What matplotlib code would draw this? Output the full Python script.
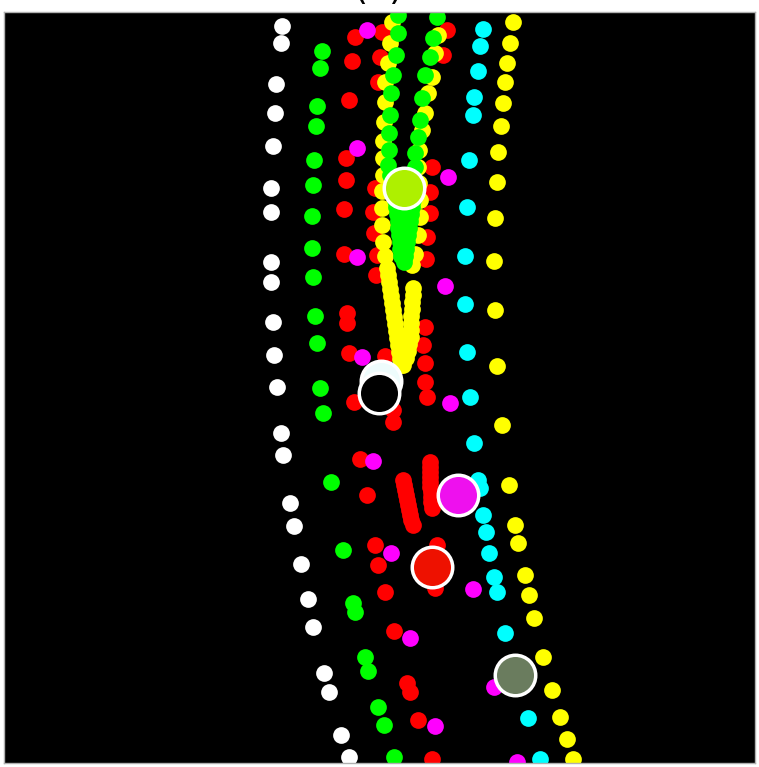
import matplotlib
matplotlib.use('Agg')
import matplotlib.pyplot as plt

# positions, in pixel units of the original image
white_x = [282, 281, 276, 275, 273, 271, 271, 271, 271, 273, 274, 277, 281, 283, 290, 294, 301, 308, 313, 324, 329, 341, 349]
white_y = [26, 43, 84, 113, 146, 188, 212, 262, 282, 322, 355, 387, 433, 455, 503, 526, 564, 599, 627, 673, 692, 735, 757]

green_x = [322, 320, 317, 316, 314, 313, 312, 312, 313, 315, 317, 320, 323, 331, 343, 353, 355, 365, 368, 378, 384, 394]
green_y = [51, 68, 106, 126, 160, 185, 216, 248, 277, 316, 343, 388, 413, 482, 550, 603, 612, 657, 671, 707, 725, 757]

# green V in the middle
greenv_x = [398, 398, 396, 393, 391, 390, 389, 388.5, 388,
            390, 392, 395, 396, 397, 397.5, 398, 399, 399.5, 400, 401,
            437, 433, 430, 425, 422, 420, 418, 415, 415,
            415, 414, 413, 412, 411, 410, 409, 408, 407, 406, 405, 404]
greenv_y = [15, 33, 55, 75, 93, 115, 133, 150, 165,
            175, 190, 200, 207, 214, 221, 228, 235, 242, 249, 256,
            17, 38, 57, 75, 98, 120, 137, 153, 167,
            180, 192, 200, 207, 214, 221, 228, 235, 242, 249, 256, 262]

yellow_x = [513, 510, 507, 505, 503, 501, 498, 497, 495, 494, 495, 497, 502, 509, 515, 518, 525, 529, 534,
            543, 552, 560, 567, 573]
yellow_y = [22, 43, 63, 82, 103, 126, 152, 182, 218, 261, 310, 366, 425, 485, 525, 543, 575, 595, 618,
            657, 690, 717, 739, 759]

# yellow double V in the middle
yellowv_x = [392, 390, 388, 385, 385, 384, 383, 383, 383,
             382, 382, 382, 383, 385,
             438, 435, 432, 428, 425, 422, 419, 418,
             419, 420, 420, 418, 415, 412,
             387, 388, 389, 390, 391, 392, 393, 394, 395, 396, 397, 398, 399, 400, 401,
             413, 412.5, 412, 411.5, 411, 411, 411, 410.5, 409, 408, 406, 403]
yellowv_y = [22, 43, 63, 82, 102, 122, 141, 158, 175,
             191, 208, 225, 242, 256,
             35, 53, 77, 93, 113, 130, 150, 167,
             183, 200, 217, 235, 254, 265,
             268, 275, 282, 289, 296, 303, 310, 317, 324, 331, 338, 345, 352, 359, 365,
             288, 295, 302, 309, 316, 323, 330, 337, 344, 351, 358, 365]

red_x = [355, 382, 447, 352, 380, 443, 378, 349, 346, 346, 432, 375, 430,
         344, 373, 430, 374, 427, 344, 377, 426, 376, 347, 347, 425, 423, 349, 425, 385, 425, 427, 354,
         393, 393, 360, 367, 375, 437, 378, 435, 385, 394, 407, 410, 418, 432,
         403, 404, 405, 406, 407, 408, 409, 410, 411, 413,
         430, 430, 430, 430, 430, 430, 431, 431, 431, 432]
red_y = [37, 32, 30, 61, 57, 55, 82, 100, 158, 180, 167, 188, 192,
         209, 212, 213, 233, 237, 254, 255, 259, 275, 313, 323, 327, 345, 353, 363, 356, 382, 397, 402,
         410, 422, 459, 495, 545, 545, 565, 588, 592, 631, 683, 692, 720, 759,
         480, 485, 490, 495, 500, 505, 510, 515, 520, 525,
         462, 467, 472, 477, 482, 487, 492, 497, 502, 508]

magenta_x = [367, 357, 448, 357, 445, 362, 450, 373, 391, 473, 410, 494, 435, 517]
magenta_y = [30, 148, 177, 257, 286, 357, 403, 461, 553, 589, 638, 687, 726, 762]

cyan_x = [483, 480, 478, 474, 473, 469, 467, 465, 465, 467, 470, 474, 478, 480, 483, 486, 489, 494, 497, 505, 528, 540]
cyan_y = [29, 46, 71, 97, 115, 160, 207, 256, 304, 352, 397, 443, 480, 488, 515, 532, 553, 577, 592, 633, 718, 759]

# big markers
big_x = [404, 381, 379, 458, 432, 515]
big_y = [188, 381, 393, 495, 567, 675]
big_colors = ['#aef000', '#eefcfc', '#000000', '#ee10ee', '#ee1100', '#6a7c5e']

fig = plt.figure(figsize=(7.59, 7.67), dpi=100)
ax = fig.add_axes([4 / 759, 4 / 767, 751 / 759, 751 / 767])
ax.set_facecolor('black')
ax.set_xlim(4, 755)
ax.set_ylim(763, 12)
ax.set_xticks([])
ax.set_yticks([])
for sp in ax.spines.values():
    sp.set_color('#b0b0b0')
    sp.set_linewidth(1)

dot = 145
ax.scatter(red_x, red_y, s=dot, c='#ff0000', linewidths=0)
ax.scatter(magenta_x, magenta_y, s=dot, c='#ff00ff', linewidths=0)
ax.scatter(white_x, white_y, s=dot, c='#ffffff', linewidths=0)
ax.scatter(cyan_x, cyan_y, s=dot, c='#00ffff', linewidths=0)
ax.scatter(yellow_x, yellow_y, s=dot, c='#ffff00', linewidths=0)
ax.scatter(yellowv_x, yellowv_y, s=dot, c='#ffff00', linewidths=0)
ax.scatter(green_x, green_y, s=dot, c='#00ff00', linewidths=0)
ax.scatter(greenv_x, greenv_y, s=dot, c='#00ff00', linewidths=0)

for i in range(len(big_x)):
    ax.scatter(big_x[i], big_y[i], s=850, c=big_colors[i], edgecolors='white', linewidths=2.5, zorder=5)

# title sits above the top edge, only the bottom of the brackets shows
fig.text(378.5 / 759, 1.0015, '(a)', fontsize=26, ha='center', va='baseline')

fig.savefig('out.png', dpi=100)
